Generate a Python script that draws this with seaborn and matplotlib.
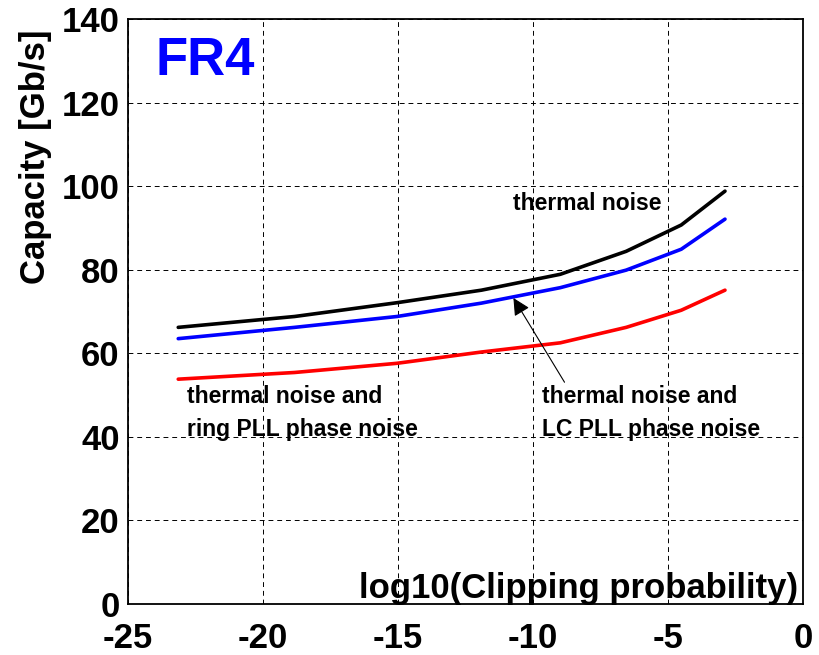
import matplotlib
matplotlib.use("Agg")
import matplotlib.pyplot as plt
import seaborn as sns
import pandas as pd
import numpy as np

# Data
x_vals = [-23.14, -18.83, -15.04, -11.91, -8.99, -6.55, -4.51, -2.89]
thermal = [66.2, 68.8, 72.1, 75.1, 78.9, 84.4, 90.7, 98.8]
thermal_lc = [63.5, 66.2, 68.8, 72.0, 75.7, 79.9, 84.9, 92.1]
thermal_ring = [53.8, 55.4, 57.6, 60.3, 62.5, 66.2, 70.3, 75.1]
series_names = ["thermal noise", "thermal noise and LC PLL phase noise",
                "thermal noise and ring PLL phase noise"]
colors = ["#000000", "#0000FF", "#FF0000"]
x_ticks = [-25, -20, -15, -10, -5, 0]
y_ticks = [0, 20, 40, 60, 80, 100, 120, 140]

df = pd.DataFrame({
    "x": x_vals * 3,
    "y": thermal + thermal_lc + thermal_ring,
    "series": sum([[n] * len(x_vals) for n in series_names], []),
})

sns.set_style("white")
plt.rcParams["font.family"] = ["Liberation Sans", "DejaVu Sans"]
plt.rcParams["font.weight"] = "bold"
plt.rcParams["axes.unicode_minus"] = False
plt.rcParams["text.color"] = "black"
plt.rcParams["axes.labelcolor"] = "black"
plt.rcParams["xtick.color"] = "black"
plt.rcParams["ytick.color"] = "black"

fig = plt.figure(figsize=(8.19, 6.55), dpi=100)
ax = fig.add_axes([0.1563, 0.0779, 0.8242, 0.8931])

sns.lineplot(data=df, x="x", y="y", hue="series", palette=dict(zip(series_names, colors)),
             linewidth=2.6, legend=False, ax=ax, sort=False)

ax.set_xlim(-25, 0)
ax.set_ylim(0, 140)
ax.set_xticks(x_ticks)
ax.set_yticks(y_ticks)
ax.set_xticklabels([str(v) for v in x_ticks])
ax.set_yticklabels([str(v) for v in y_ticks])
ax.grid(True, linestyle=(0, (5, 4)), color="black", linewidth=0.7)
ax.tick_params(axis="both", direction="in", length=5, width=1, labelsize=25,
               colors="black")
ax.tick_params(axis="x", pad=13)
ax.tick_params(axis="y", pad=6)
for lab in ax.get_xticklabels() + ax.get_yticklabels():
    lab.set_fontweight("bold")
for s in ax.spines.values():
    s.set_visible(True)
    s.set_color("black")
    s.set_linewidth(1.3)

ax.set_xlabel("")
ax.set_ylabel("")
fig.text(36 / 819, 1 - 157 / 655, "Capacity [Gb/s]", rotation=90, ha="center",
         va="center", fontsize=25, fontweight="bold", color="black")
ax.text(-0.2, 1.5, "log10(Clipping probability)", ha="right", va="baseline",
        fontsize=25, fontweight="bold", color="black")

ax.text(-24.0, 126.6, "FR4", color="#0000FF", fontsize=38, fontweight="bold",
        ha="left", va="baseline")
ax.text(-10.74, 94.3, "thermal noise", fontsize=16.5, fontweight="bold",
        ha="left", va="baseline", color="black")
ax.text(-9.67, 52.3, "thermal noise and\nLC PLL phase noise", fontsize=16.5,
        fontweight="bold", ha="left", va="top", linespacing=1.55, color="black")
ax.text(-22.81, 52.3, "thermal noise and\nring PLL phase noise", fontsize=16.5,
        fontweight="bold", ha="left", va="top", linespacing=1.55, color="black")
ax.annotate("", xy=(-10.78, 73.8), xytext=(-8.78, 52.5),
            arrowprops=dict(arrowstyle="-|>", color="black", lw=0.8,
                            mutation_scale=26))

fig.savefig("out.png", dpi=100, facecolor="white")
